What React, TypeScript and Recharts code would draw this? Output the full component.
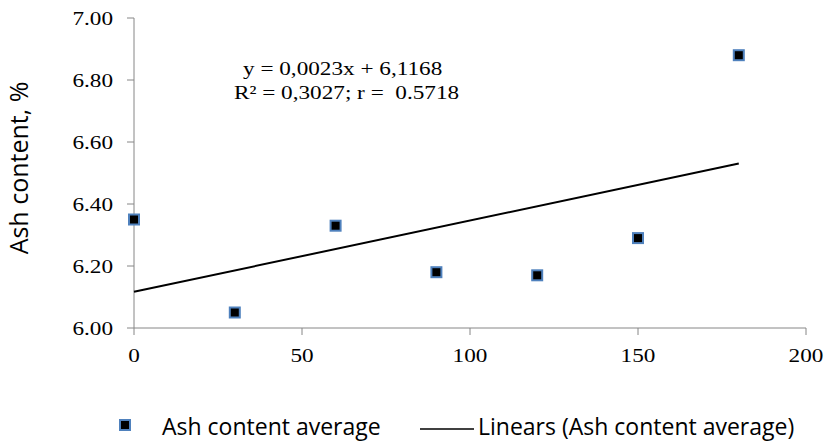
import React from "react";
import { ComposedChart, Scatter, XAxis, YAxis } from "recharts";

const daysX = [0, 30, 60, 90, 120, 150, 180];
const ashAverage = [6.35, 6.05, 6.33, 6.18, 6.17, 6.29, 6.88];
const trendX = [0, 180];
const trendY = [6.1168, 6.5308];
const xTicks = [0, 50, 100, 150, 200];
const yTicks = [6.0, 6.2, 6.4, 6.6, 6.8, 7.0];
const equationLine1 = "y = 0,0023x + 6,1168";
const equationLine2 = "R² = 0,3027; r =  0.5718";
const yAxisTitle = "Ash content, %";
const seriesName = "Ash content average";
const trendName = "Linears (Ash content average)";

const pointData = daysX.map((x, i) => ({ x, y: ashAverage[i] }));
const trendData = trendX.map((x, i) => ({ x, y: trendY[i] }));

const AXIS_COLOR = "#868686";
const SERIF = "'Liberation Serif', 'Times New Roman', serif";
const SANS = "'Open Sans', 'Noto Sans', sans-serif";
const STRETCH = 1.19;

const YTick = (props: any) => {
  const { x, y, payload } = props;
  return (
    <g transform={`translate(${x},${y})`}>
      <text
        textAnchor="end"
        dy="0.35em"
        style={{ fontFamily: SERIF, fontSize: 19.5 }}
        fill="#000"
        transform={`scale(${STRETCH},1)`}
      >
        {Number(payload.value).toFixed(2)}
      </text>
    </g>
  );
};

const XTick = (props: any) => {
  const { x, y, payload } = props;
  return (
    <g transform={`translate(${x},${y})`}>
      <text
        textAnchor="middle"
        dy="0.71em"
        style={{ fontFamily: SERIF, fontSize: 19.5 }}
        fill="#000"
        transform={`scale(${STRETCH},1)`}
      >
        {payload.value}
      </text>
    </g>
  );
};

const SquareMarker = (props: any) => {
  const { cx, cy } = props;
  if (cx == null || cy == null) return <g />;
  return (
    <rect
      x={cx - 5}
      y={cy - 5}
      width={10}
      height={10}
      fill="#000"
      stroke="#4F81BD"
      strokeWidth={2}
    />
  );
};

const NoShape = () => <g />;

const YLabel = (props: any) => {
  const vb = props.viewBox || {};
  const cx = (vb.x ?? 0) + 28;
  const cy = (vb.y ?? 0) + (vb.height ?? 0) / 2 - 5;
  return (
    <text
      x={cx}
      y={cy}
      transform={`rotate(-90, ${cx}, ${cy})`}
      textAnchor="middle"
      style={{ fontFamily: SANS, fontSize: 25 }}
      fill="#000"
    >
      {yAxisTitle}
    </text>
  );
};

export default function App() {
  return (
    <div
      style={{
        position: "absolute",
        left: 0,
        top: 0,
        width: 829,
        height: 443,
        background: "#fff",
      }}
    >
      <ComposedChart
        width={829}
        height={443}
        margin={{ top: 18, right: 23, bottom: 75, left: 0 }}
      >
        <XAxis
          type="number"
          dataKey="x"
          domain={[0, 200]}
          ticks={xTicks}
          interval={0}
          height={40}
          stroke={AXIS_COLOR}
          tickLine={{ stroke: AXIS_COLOR }}
          tickSize={7}
          tickMargin={13}
          tick={<XTick />}
        />
        <YAxis
          type="number"
          dataKey="y"
          domain={[6, 7]}
          ticks={yTicks}
          interval={0}
          width={134}
          stroke={AXIS_COLOR}
          tickLine={{ stroke: AXIS_COLOR }}
          tickSize={7}
          tickMargin={14}
          tick={<YTick />}
          label={<YLabel />}
        />
        <Scatter
          name={trendName}
          data={trendData}
          line={{ stroke: "#000", strokeWidth: 2 }}
          lineType="joint"
          shape={<NoShape />}
          isAnimationActive={false}
        />
        <Scatter
          name={seriesName}
          data={pointData}
          shape={<SquareMarker />}
          isAnimationActive={false}
        />
      </ComposedChart>

      <svg
        width={829}
        height={443}
        style={{ position: "absolute", left: 0, top: 0, pointerEvents: "none" }}
      >
        <text
          x={243}
          y={75}
          xmlSpace="preserve"
          style={{ fontFamily: SERIF, fontSize: 19.5, whiteSpace: "pre" }}
          fill="#000"
          transform={`translate(243,0) scale(${STRETCH},1) translate(-243,0)`}
        >
          {equationLine1}
        </text>
        <text
          x={234}
          y={99}
          xmlSpace="preserve"
          style={{ fontFamily: SERIF, fontSize: 19.5, whiteSpace: "pre" }}
          fill="#000"
          transform={`translate(234,0) scale(${STRETCH},1) translate(-234,0)`}
        >
          {equationLine2}
        </text>

        <rect
          x={120}
          y={420}
          width={10}
          height={10}
          fill="#000"
          stroke="#4F81BD"
          strokeWidth={2}
        />
        <text x={162} y={435} style={{ fontFamily: SANS, fontSize: 23 }} fill="#000">
          {seriesName}
        </text>
        <line x1={420} y1={429} x2={474} y2={429} stroke="#000" strokeWidth={1.5} />
        <text x={478} y={435} style={{ fontFamily: SANS, fontSize: 23 }} fill="#000">
          {trendName}
        </text>
      </svg>
    </div>
  );
}
